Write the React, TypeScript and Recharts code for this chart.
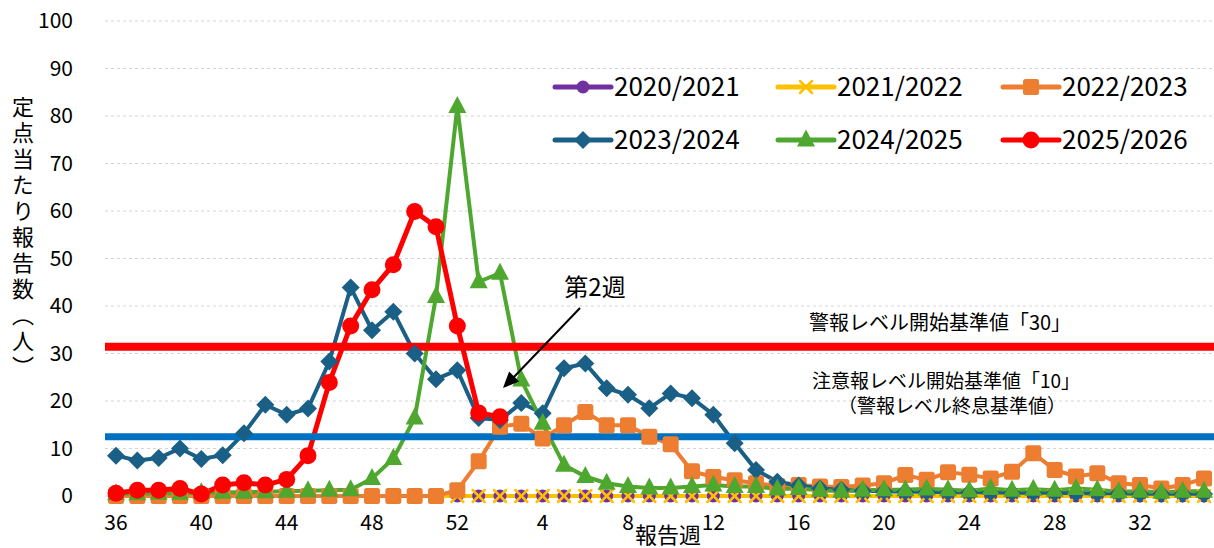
import React from 'react';
import { LineChart, Line, XAxis, YAxis, CartesianGrid, ReferenceLine } from 'recharts';

const FONT = "'Noto Sans CJK JP', 'Noto Sans', sans-serif";

const weeks: string[] = [
  '36','37','38','39','40','41','42','43','44','45','46','47','48','49','50','51','52',
  '1','2','3','4','5','6','7','8','9','10','11','12','13','14','15','16','17','18','19','20',
  '21','22','23','24','25','26','27','28','29','30','31','32','33','34','35',
];

const s2020: number[] = [
  0,0,0,0,0,0,0,0,0,0,0,0,0,0,0,0,0,
  0,0,0,0,0,0,0,0,0,0,0,0,0,0,0,0,0,0,0,0,
  0,0,0,0,0,0,0,0,0,0,0,0,0,0,0,
];

const s2021: number[] = [
  0,0,0,0,0,0,0,0,0,0,0,0,0,0,0,0,0,
  0,0,0,0,0,0,0,0,0,0,0,0,0,0,0,0,0,0,0,0,
  0,0,0,0,0,0,0,0,0,0,0,0,0,0,0,
];

const s2022: number[] = [
  0,0,0,0,0,0,0,0,0,0,0,0,0,0,0,0,1.2,
  7.3,14.6,15.2,12.1,14.9,17.7,14.9,14.9,12.5,10.9,5.2,4.0,3.3,2.7,2.1,2.3,2.0,1.9,2.2,2.7,
  4.4,3.4,5.0,4.5,3.7,5.1,9.0,5.5,4.1,4.8,2.7,2.3,1.6,2.3,3.7,
];

const s2023: number[] = [
  8.5,7.5,8.0,10.0,7.8,8.6,13.2,19.2,17.1,18.4,28.3,43.9,34.9,38.8,30.0,24.6,26.5,
  16.4,16.0,19.6,17.4,26.9,27.9,22.7,21.3,18.5,21.6,20.6,17.1,11.1,5.5,3.0,2.2,1.6,1.3,1.1,1.0,
  0.9,0.9,0.8,0.8,0.8,0.7,0.7,0.7,0.6,0.6,0.6,0.5,0.5,0.5,0.4,
];

const s2024: number[] = [
  0.5,0.5,0.6,0.6,0.7,0.8,0.8,0.9,1.0,1.1,1.2,1.3,3.7,7.9,16.4,42.0,82.0,
  45.1,46.9,24.4,15.3,6.5,4.1,2.7,2.0,1.7,1.7,2.0,2.3,2.0,2.0,1.5,1.6,1.2,1.0,1.2,1.3,
  1.3,1.5,1.3,1.1,1.6,1.2,1.4,1.2,1.6,1.3,0.9,1.0,0.8,1.0,1.0,
];

const s2025: (number | null)[] = [
  0.6,1.2,1.2,1.6,0.4,2.3,2.8,2.3,3.5,8.5,23.9,35.8,43.4,48.7,59.9,56.7,35.8,
  17.5,16.7,null,null,null,null,null,null,null,null,null,null,null,null,null,null,null,null,null,null,
  null,null,null,null,null,null,null,null,null,null,null,null,null,null,null,
];

const yTicks: number[] = [0, 10, 20, 30, 40, 50, 60, 70, 80, 90, 100];
const alarmLevel = 31.4;
const warnLevel = 12.5;

type Kind = 'circle' | 'x' | 'square' | 'diamond' | 'triangle' | 'bigcircle';

interface SeriesDef {
  key: string;
  name: string;
  color: string;
  kind: Kind;
  width: number;
}

const series: SeriesDef[] = [
  { key: 's2020', name: '2020/2021', color: '#7030a0', kind: 'circle', width: 4 },
  { key: 's2021', name: '2021/2022', color: '#ffc000', kind: 'x', width: 4 },
  { key: 's2022', name: '2022/2023', color: '#ed7d31', kind: 'square', width: 4 },
  { key: 's2023', name: '2023/2024', color: '#1a5f85', kind: 'diamond', width: 4 },
  { key: 's2024', name: '2024/2025', color: '#4ea72e', kind: 'triangle', width: 4 },
  { key: 's2025', name: '2025/2026', color: '#ff0000', kind: 'bigcircle', width: 5 },
];

const data = weeks.map((w, i) => ({
  week: w,
  s2020: s2020[i],
  s2021: s2021[i],
  s2022: s2022[i],
  s2023: s2023[i],
  s2024: s2024[i],
  s2025: s2025[i],
}));

function Marker({ kind, color, cx, cy }: { kind: Kind; color: string; cx: number; cy: number }) {
  switch (kind) {
    case 'circle':
      return <circle cx={cx} cy={cy} r={6.5} fill={color} />;
    case 'bigcircle':
      return <circle cx={cx} cy={cy} r={8.5} fill={color} />;
    case 'x':
      return (
        <g stroke={color} strokeWidth={2.5} strokeLinecap="round">
          <line x1={cx - 6} y1={cy - 6} x2={cx + 6} y2={cy + 6} />
          <line x1={cx - 6} y1={cy + 6} x2={cx + 6} y2={cy - 6} />
        </g>
      );
    case 'square':
      return <rect x={cx - 8} y={cy - 8} width={16} height={16} rx={2.5} fill={color} />;
    case 'diamond':
      return (
        <polygon
          points={`${cx},${cy - 9} ${cx + 9},${cy} ${cx},${cy + 9} ${cx - 9},${cy}`}
          fill={color}
        />
      );
    case 'triangle':
      return (
        <polygon
          points={`${cx},${cy - 10.5} ${cx + 9},${cy + 6.5} ${cx - 9},${cy + 6.5}`}
          fill={color}
        />
      );
    default:
      return null;
  }
}

function makeDot(kind: Kind, color: string) {
  return (props: any) => {
    const { cx, cy, index, value } = props;
    const key = `${kind}-${index}`;
    if (cx == null || cy == null || value == null || Number.isNaN(cy)) return <g key={key} />;
    return (
      <g key={key}>
        <Marker kind={kind} color={color} cx={cx} cy={cy} />
      </g>
    );
  };
}

const legendCols: number[] = [555, 778, 1003];
const legendRows: number[] = [87, 140];

function Overlay() {
  return (
    <svg
      width={1214}
      height={548}
      style={{ position: 'absolute', left: 0, top: 0, pointerEvents: 'none' }}
    >
      {series.map((s, i) => {
        const x0 = legendCols[i % 3];
        const y = legendRows[Math.floor(i / 3)];
        return (
          <g key={s.key}>
            <line
              x1={x0}
              y1={y}
              x2={x0 + 56}
              y2={y}
              stroke={s.color}
              strokeWidth={5}
              strokeLinecap="round"
            />
            <Marker kind={s.kind} color={s.color} cx={x0 + 28} cy={y} />
            <text x={x0 + 59} y={y + 9} fontSize={26} fontFamily={FONT} fill="#000">
              {s.name}
            </text>
          </g>
        );
      })}
      <text x={940} y={330} fontSize={20} fontFamily={FONT} fill="#000" textAnchor="middle">
        警報レベル開始基準値「30」
      </text>
      <text fontSize={19} fontFamily={FONT} fill="#000" textAnchor="middle">
        <tspan x={946} y={388}>注意報レベル開始基準値「10」</tspan>
        <tspan x={952} y={413}>（警報レベル終息基準値）</tspan>
      </text>
      <text x={595} y={296} fontSize={24} fontFamily={FONT} fill="#000" textAnchor="middle">
        第2週
      </text>
      <line x1={580} y1={308} x2={512} y2={379} stroke="#000" strokeWidth={2} />
      <polygon points="503,388 519.1,381.4 509.1,371.6" fill="#000" />
      <text x={668} y={543} fontSize={22} fontFamily={FONT} fill="#000" textAnchor="middle">
        報告週
      </text>
    </svg>
  );
}

export default function App() {
  return (
    <div
      style={{
        position: 'absolute',
        left: 0,
        top: 0,
        width: 1214,
        height: 548,
        background: '#fff',
        fontFamily: FONT,
      }}
    >
      <LineChart
        width={1214}
        height={548}
        data={data}
        margin={{ top: 21, right: 0, bottom: 22, left: 0 }}
      >
        <CartesianGrid vertical={false} stroke="#d4d4d4" strokeDasharray="3 3" />
        <XAxis
          dataKey="week"
          interval={3}
          tickLine={false}
          axisLine={false}
          tickSize={0}
          tickMargin={19}
          height={30}
          padding={{ left: 11, right: 10 }}
          tick={{ fontSize: 21, fill: '#000', fontFamily: FONT }}
        />
        <YAxis
          domain={[0, 100]}
          ticks={yTicks}
          width={105}
          tickLine={false}
          axisLine={false}
          tickSize={0}
          tickMargin={32}
          tick={{ fontSize: 21, fill: '#000', fontFamily: FONT }}
        />
        {series.map((s) => (
          <Line
            key={s.key}
            type="linear"
            dataKey={s.key}
            name={s.name}
            stroke={s.color}
            strokeWidth={s.width}
            dot={makeDot(s.kind, s.color)}
            activeDot={false}
            isAnimationActive={false}
            connectNulls={false}
          />
        ))}
        <ReferenceLine y={alarmLevel} stroke="#ff0000" strokeWidth={8} />
        <ReferenceLine y={warnLevel} stroke="#0070c0" strokeWidth={7} />
      </LineChart>
      <Overlay />
      <div
        style={{
          position: 'absolute',
          left: 10,
          top: 96,
          writingMode: 'vertical-rl',
          fontSize: 22,
          letterSpacing: 4,
          lineHeight: '26px',
          color: '#000',
          fontFamily: FONT,
        }}
      >
        定点当たり報告数（人）
      </div>
    </div>
  );
}
